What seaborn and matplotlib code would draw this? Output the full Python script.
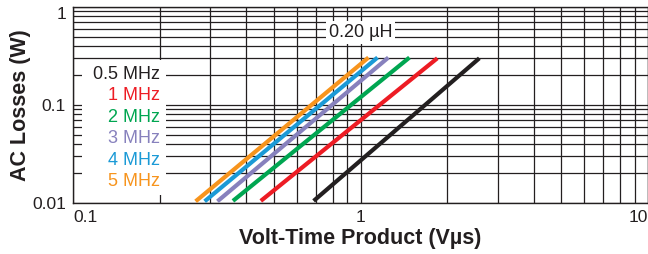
import matplotlib
matplotlib.use("Agg")
import matplotlib.pyplot as plt
import seaborn as sns
import pandas as pd
import numpy as np
from matplotlib.ticker import LogLocator, NullFormatter, FixedLocator, FixedFormatter

# Data (start and end points of each straight log-log line)
labels = ["0.5 MHz", "1 MHz", "2 MHz", "3 MHz", "4 MHz", "5 MHz"]
colors = ["#231f20", "#ed1c24", "#00a651", "#8781bd", "#1b9ad6", "#f7941d"]
x_start = [0.687, 0.45, 0.36, 0.318, 0.287, 0.267]
x_end = [2.59, 1.85, 1.48, 1.25, 1.146, 1.066]
y_start = [0.0105, 0.0105, 0.0105, 0.0104, 0.0104, 0.0104]
y_end = [0.30, 0.30, 0.305, 0.305, 0.305, 0.305]
inductance_label = "0.20 µH"

rows = []
for lab, xs, xe, ys, ye in zip(labels, x_start, x_end, y_start, y_end):
    rows.append({"freq": lab, "vt": xs, "loss": ys})
    rows.append({"freq": lab, "vt": xe, "loss": ye})
df = pd.DataFrame(rows)

sns.set_theme(style="white")
plt.rcParams['font.family'] = ['Liberation Sans', 'DejaVu Sans']

fig = plt.figure(figsize=(6.48, 2.54), dpi=100)
ax = fig.add_axes([73/648, 1 - 203/254, 1 - 73/648, (203 - 7)/254])

sns.lineplot(data=df, x="vt", y="loss", hue="freq", palette=colors,
             hue_order=labels, linewidth=3.0, ax=ax, legend=False,
             solid_capstyle="butt", estimator=None, sort=False, zorder=5)

ax.set_xscale("log")
ax.set_yscale("log")
ax.set_xlim(0.1, 10)
ax.set_ylim(0.01, 1)

gridc = "#231f20"
ax.xaxis.set_major_locator(FixedLocator([0.1, 1, 10]))
ax.xaxis.set_major_formatter(FixedFormatter(["0.1", "1", "10"]))
ax.yaxis.set_major_locator(FixedLocator([0.01, 0.1, 1]))
ax.yaxis.set_major_formatter(FixedFormatter(["0.01", "0.1", "1"]))
ax.xaxis.set_minor_locator(LogLocator(base=10, subs=np.arange(2, 10)))
ax.yaxis.set_minor_locator(LogLocator(base=10, subs=np.arange(2, 10)))
ax.xaxis.set_minor_formatter(NullFormatter())
ax.yaxis.set_minor_formatter(NullFormatter())
ax.grid(True, which="both", color=gridc, linewidth=0.9)
ax.tick_params(which="both", length=0, labelsize=12.5, colors="#231f20", pad=5)
for s in ax.spines.values():
    s.set_color(gridc)
    s.set_linewidth(1.0)

xt = ax.get_xticklabels()
xt[0].set_horizontalalignment("left")
xt[-1].set_horizontalalignment("right")
yt = ax.get_yticklabels()
yt[-1].set_verticalalignment("top")

ax.set_xlabel("Volt-Time Product (Vµs)", fontsize=15.5, fontweight="bold",
              color="#231f20", labelpad=2)
ax.set_ylabel("AC Losses (W)", fontsize=15.5, fontweight="bold",
              color="#231f20", labelpad=1)

# Legend-like box with coloured text
box = matplotlib.patches.Rectangle((0.0155, 0.04), 0.147, 0.69, transform=ax.transAxes,
                                   facecolor="white", edgecolor="none", zorder=4)
ax.add_patch(box)
y0 = 0.655
for i, (lab, c) in enumerate(zip(labels, colors)):
    ax.text(0.152, y0 - i * 0.109, lab, transform=ax.transAxes, color=c,
            fontsize=13, ha="right", va="center", zorder=6)

ax.text(1.0, 0.55, inductance_label, color="#231f20", fontsize=13,
        ha="center", va="center", zorder=6,
        bbox=dict(facecolor="white", edgecolor="none", pad=2))

fig.savefig("out.png", dpi=100)
